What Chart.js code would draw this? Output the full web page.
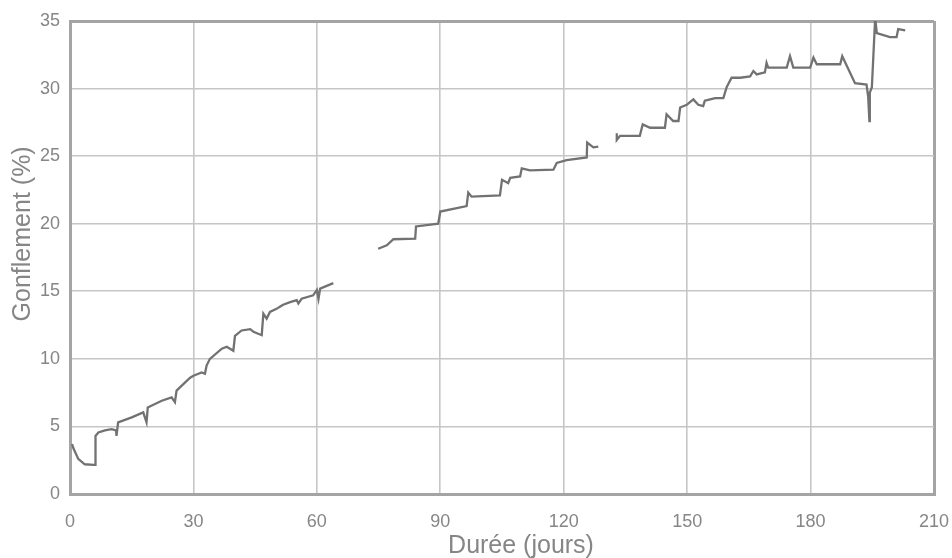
<!DOCTYPE html>
<html>
<head>
<meta charset="utf-8">
<script src="https://cdn.jsdelivr.net/npm/chart.js@4"></script>
<style>
  html, body { margin: 0; padding: 0; background: #fff; }
  canvas { display: block; }
</style>
</head>
<body>
<canvas id="swellChart" width="952" height="558"></canvas>
<script>
// swelling test (null = gap in the record)
const days = [
    0.5, 0.8, 2.0, 3.6, 5.7, 6.1, 6.2, 6.9, 8.5, 10.1, 11.2, 11.3, 11.7, 15.0, 17.8, 18.6, 18.9,
    22.3, 24.7, 25.5, 25.9, 27.1, 29.2, 30.0, 32.0, 32.8, 33.2, 34.0, 36.9, 38.1, 39.7, 40.1,
    41.7, 43.8, 44.6, 46.6, 47.0, 47.8, 48.6, 50.2, 51.0, 51.8, 53.5, 55.1, 55.5, 56.3, 59.1,
    60.0, 60.4, 60.8, 64.0,
    69.0,
    74.9, 77.0, 78.6, 83.9, 84.1, 89.5, 90.0, 96.4, 96.8, 97.6, 104.5, 105.0, 106.5, 107.0,
    109.4, 109.8, 111.8, 117.5, 118.3, 120.7, 125.6, 125.7, 127.2, 128.4,
    130.5,
    132.9, 132.9, 133.7, 138.5, 139.2, 141.0, 144.6, 145.0, 146.6, 147.9, 148.3, 149.9, 151.5,
    152.7, 153.9, 154.3, 155.6, 156.8, 158.8, 159.6, 160.8, 162.9, 165.3, 166.1, 166.9, 168.9,
    169.3, 169.7, 174.2, 175.0, 175.8, 179.9, 180.7, 181.5, 187.2, 187.7, 190.8, 193.6, 194.0,
    194.3, 194.4, 194.9, 195.7, 196.1, 199.3, 200.9, 201.3, 203.0
];
const swell = [
    3.7, 3.4, 2.6, 2.2, 2.15, 2.15, 4.3, 4.55, 4.7, 4.8, 4.7, 4.3, 5.3, 5.67, 6.04, 5.3, 6.4,
    6.9, 7.15, 6.8, 7.65, 8.0, 8.6, 8.75, 9.0, 8.9, 9.5, 10.0, 10.75, 10.9, 10.6, 11.7,
    12.1, 12.2, 12.0, 11.75, 13.35, 12.98, 13.47, 13.7, 13.85, 14.0, 14.2, 14.35, 14.1, 14.45, 14.7,
    15.1, 14.45, 15.2, 15.6,
    null,
    18.15, 18.4, 18.85, 18.9, 19.8, 20.0, 20.9, 21.3, 22.3, 22.0, 22.1, 23.25, 23.0, 23.4,
    23.5, 24.1, 23.95, 24.0, 24.5, 24.7, 24.9, 26.0, 25.65, 25.7,
    null,
    26.7, 26.2, 26.5, 26.5, 27.35, 27.1, 27.1, 28.1, 27.6, 27.6, 28.6, 28.8, 29.2,
    28.8, 28.7, 29.1, 29.2, 29.3, 29.3, 30.1, 30.8, 30.8, 30.9, 31.3, 31.05, 31.2,
    31.9, 31.55, 31.55, 32.4, 31.55, 31.55, 32.3, 31.8, 31.8, 32.4, 30.4, 30.3, 29.4,
    27.6, 29.7, 30.1, 35.2, 34.1, 33.8, 33.8, 34.4, 34.3
];
const xTicks = [0, 30, 60, 90, 120, 150, 180, 210];
const yTicks = [0, 5, 10, 15, 20, 25, 30, 35];
const xTitle = 'Durée (jours)';
const yTitle = 'Gonflement (%)';

const points = days.map((d, i) => ({ x: d, y: swell[i] }));

const frameColor = '#a4a4a4';
const gridColor = '#c6c6c6';
const textColor = '#868686';

function edgeColor(ctx, first, last) {
    const v = ctx.tick ? ctx.tick.value : null;
    return (v === first || v === last) ? frameColor : gridColor;
}
function edgeWidth(ctx, first, last) {
    const v = ctx.tick ? ctx.tick.value : null;
    return (v === first || v === last) ? 3 : 1.6;
}

// axis titles are placed off-centre in the figure, so draw them ourselves
const axisTitles = {
    id: 'axisTitles',
    afterDraw(chart) {
        const { ctx, chartArea } = chart;
        ctx.save();
        ctx.fillStyle = textColor;
        ctx.font = '25px "Liberation Sans", Arial, sans-serif';
        ctx.textAlign = 'center';
        ctx.textBaseline = 'middle';
        ctx.fillText(xTitle, chartArea.left + chartArea.width * 0.522, 546);
        ctx.translate(23, chartArea.top + chartArea.height * 0.45);
        ctx.rotate(-Math.PI / 2);
        ctx.fillText(yTitle, 0, 0);
        ctx.restore();
    }
};

const swellChart = new Chart(document.getElementById('swellChart').getContext('2d'), {
    type: 'line',
    data: {
        datasets: [{
            label: yTitle,
            data: points,
            borderColor: '#727272',
            borderWidth: 2.3,
            pointRadius: 0,
            tension: 0,
            spanGaps: false,
            fill: false
        }]
    },
    options: {
        responsive: false,
        animation: false,
        layout: {
            padding: { top: 21, right: 18, left: 0, bottom: 0 }
        },
        plugins: {
            legend: { display: false },
            tooltip: { enabled: false }
        },
        scales: {
            x: {
                type: 'linear',
                min: 0,
                max: 210,
                afterBuildTicks: (scale) => { scale.ticks = xTicks.map(v => ({ value: v })); },
                afterFit: (scale) => {
                    scale.height = 64;
                    scale.paddingLeft = 0;
                    scale.paddingRight = 0;
                },
                grid: {
                    color: (ctx) => edgeColor(ctx, 0, 210),
                    lineWidth: (ctx) => edgeWidth(ctx, 0, 210),
                    drawTicks: false
                },
                border: { display: true, color: frameColor, width: 3 },
                ticks: {
                    padding: 17,
                    color: textColor,
                    font: { family: '"Liberation Sans", Arial, sans-serif', size: 18 }
                }
            },
            y: {
                min: 0,
                max: 35,
                afterBuildTicks: (scale) => { scale.ticks = yTicks.map(v => ({ value: v })); },
                afterFit: (scale) => {
                    scale.width = 70;
                    scale.paddingTop = 0;
                    scale.paddingBottom = 0;
                },
                grid: {
                    color: (ctx) => edgeColor(ctx, 0, 35),
                    lineWidth: (ctx) => edgeWidth(ctx, 0, 35),
                    drawTicks: false
                },
                border: { display: true, color: frameColor, width: 3 },
                ticks: {
                    padding: 10,
                    color: textColor,
                    font: { family: '"Liberation Sans", Arial, sans-serif', size: 18 }
                }
            }
        }
    },
    plugins: [axisTitles]
});
</script>
</body>
</html>
